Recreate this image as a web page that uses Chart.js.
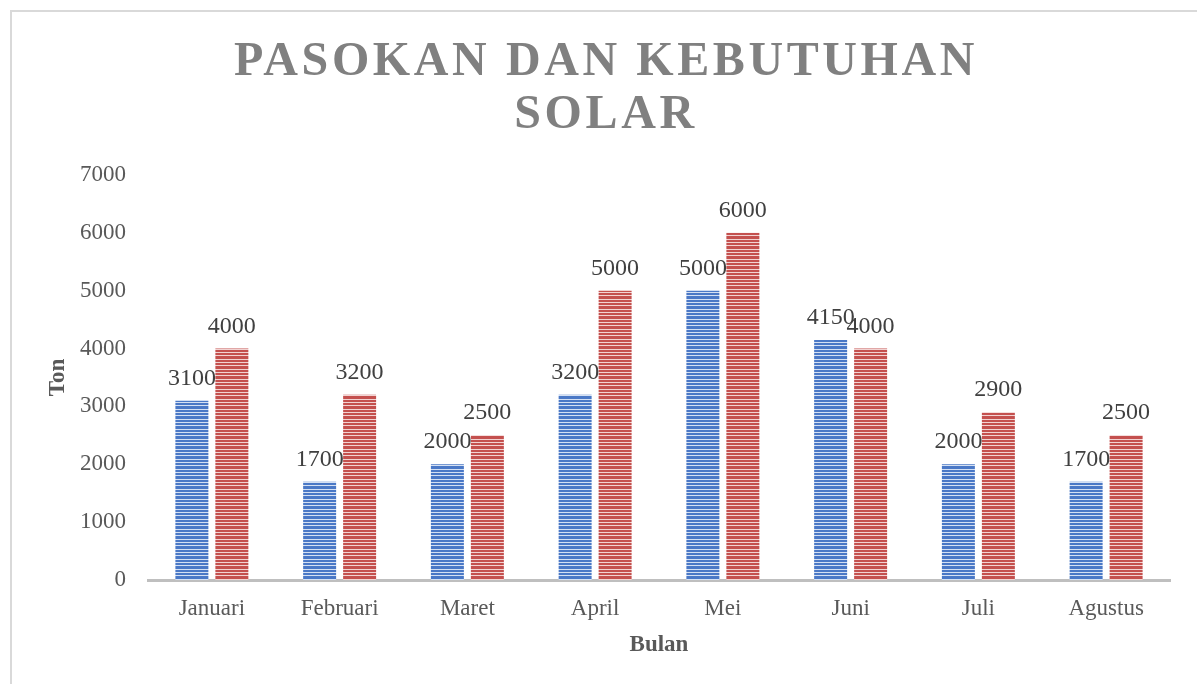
<!DOCTYPE html>
<html>
<head>
<meta charset="utf-8">
<script src="https://cdn.jsdelivr.net/npm/chart.js@4.4.1/dist/chart.umd.min.js"></script>
<style>
  body { margin: 0; background: #fff; overflow: hidden; }
  #frame { position: absolute; left: 10px; top: 10px; width: 1400px; height: 900px; border: 2px solid #d9d9d9; box-sizing: border-box; }
  #myChart { position: absolute; left: 0; top: 0; }
</style>
</head>
<body>
<div id="frame"></div>
<canvas id="myChart" width="1197" height="684"></canvas>
<script>
const bulan = ['Januari', 'Februari', 'Maret', 'April', 'Mei', 'Juni', 'Juli', 'Agustus'];
const pasokan = [3100, 1700, 2000, 3200, 5000, 4150, 2000, 1700];
const kebutuhan = [4000, 3200, 2500, 5000, 6000, 4000, 2900, 2500];
const judul = ['PASOKAN DAN KEBUTUHAN', 'SOLAR'];

function buatPola(gelap, terang) {
    const c = document.createElement('canvas');
    c.width = 4;
    c.height = 10;
    const g = c.getContext('2d');
    g.fillStyle = gelap;
    g.fillRect(0, 0, 4, 10);
    g.fillStyle = terang;
    [2, 5, 9].forEach(y => g.fillRect(0, y, 4, 1));
    return g.createPattern(c, 'repeat');
}

const ctx = document.getElementById('myChart').getContext('2d');

// judul dengan jarak huruf
const pluginJudul = {
    id: 'judul',
    afterDraw(chart) {
        const c = chart.ctx;
        c.save();
        c.font = 'bold 48px "Liberation Serif", "Times New Roman", serif';
        c.fillStyle = '#808080';
        c.textAlign = 'center';
        c.textBaseline = 'alphabetic';
        c.letterSpacing = '3.6px';
        c.fillText(judul[0], 606, 75);
        c.fillText(judul[1], 606, 128);
        c.restore();
    }
};

// angka di atas batang
const pluginLabel = {
    id: 'labelNilai',
    afterDatasetsDraw(chart) {
        const c = chart.ctx;
        c.save();
        c.font = '24px "Liberation Serif", "Times New Roman", serif';
        c.fillStyle = '#404040';
        c.textAlign = 'center';
        c.textBaseline = 'alphabetic';
        chart.data.datasets.forEach((ds, i) => {
            chart.getDatasetMeta(i).data.forEach((bar, j) => {
                c.fillText(ds.data[j], bar.x, bar.y - 16);
            });
        });
        c.restore();
    }
};

new Chart(ctx, {
    type: 'bar',
    data: {
        labels: bulan,
        datasets: [
            {
                label: 'Pasokan',
                data: pasokan,
                backgroundColor: buatPola('#4a78c6', '#d4e0f3'),
                barPercentage: 0.825,
                categoryPercentage: 0.626
            },
            {
                label: 'Kebutuhan',
                data: kebutuhan,
                backgroundColor: buatPola('#c4504e', '#f2d3d2'),
                barPercentage: 0.825,
                categoryPercentage: 0.626
            }
        ]
    },
    options: {
        responsive: false,
        animation: false,
        layout: {
            padding: { left: 44, right: 27, top: 175, bottom: 0 }
        },
        plugins: {
            legend: { display: false },
            tooltip: { enabled: false }
        },
        scales: {
            x: {
                afterFit(scale) { scale.height = 104; },
                grid: { display: false, drawTicks: false },
                border: { display: true, color: '#bfbfbf', width: 3 },
                ticks: {
                    color: '#595959',
                    padding: 15,
                    font: { family: '"Liberation Serif", serif', size: 23 }
                },
                title: {
                    display: true,
                    text: 'Bulan',
                    color: '#595959',
                    padding: { top: 0, bottom: 25 },
                    font: { family: '"Liberation Serif", serif', size: 23, weight: 'bold' }
                }
            },
            y: {
                min: 0,
                max: 7000,
                afterFit(scale) { scale.width = 104; },
                grid: { display: false, drawTicks: false },
                border: { display: false },
                ticks: {
                    stepSize: 1000,
                    color: '#595959',
                    padding: 22,
                    callback: v => String(v),
                    font: { family: '"Liberation Serif", serif', size: 23 }
                },
                title: {
                    display: true,
                    text: 'Ton',
                    color: '#595959',
                    padding: { top: 0, bottom: 0 },
                    font: { family: '"Liberation Serif", serif', size: 23, weight: 'bold' }
                }
            }
        }
    },
    plugins: [pluginJudul, pluginLabel]
});
</script>
</body>
</html>
